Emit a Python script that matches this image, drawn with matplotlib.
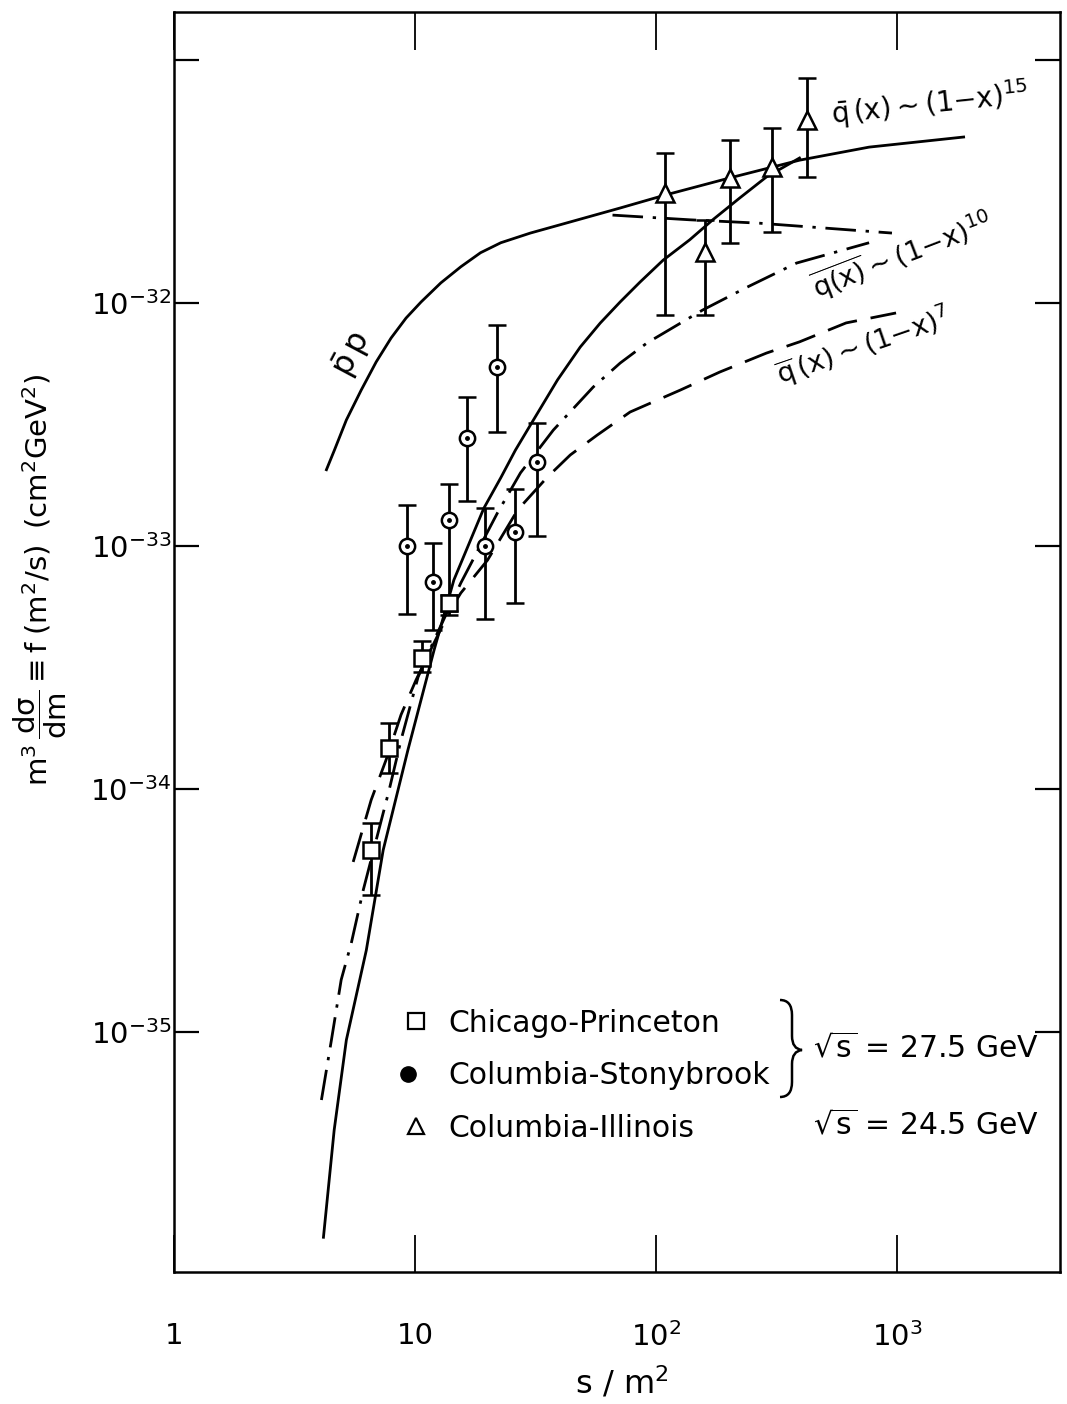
import matplotlib
matplotlib.use("Agg")
import matplotlib.pyplot as plt
from matplotlib.lines import Line2D
from matplotlib.path import Path
from matplotlib.patches import PathPatch
from matplotlib.legend_handler import HandlerTuple

plt.rcParams['font.family'] = ['DejaVu Sans']
plt.rcParams['mathtext.default'] = 'regular'

# ---- measurements: s/m^2, f, lower and upper error limits ----
cp_s = [6.58, 7.81, 10.7, 13.9]                       # Chicago-Princeton
cp_f = [5.6e-35, 1.48e-34, 3.46e-34, 5.82e-34]
cp_lo = [3.66e-35, 1.16e-34, 3.03e-34, 5.4e-34]
cp_hi = [7.24e-35, 1.87e-34, 4.06e-34, 6.3e-34]

cs_s = [9.27, 11.9, 13.8, 16.4, 19.5, 21.8, 26.1, 32.2]   # Columbia-Stonybrook
cs_f = [1.00e-33, 7.1e-34, 1.28e-33, 2.78e-33, 1.00e-33, 5.46e-33, 1.14e-33, 2.22e-33]
cs_lo = [5.25e-34, 4.51e-34, 5.2e-34, 1.53e-33, 5.0e-34, 2.94e-33, 5.82e-34, 1.10e-33]
cs_hi = [1.47e-33, 1.03e-33, 1.80e-33, 4.10e-33, 1.43e-33, 8.11e-33, 1.72e-33, 3.21e-33]

ci_s = [109, 159, 202, 302, 425]                        # Columbia-Illinois
ci_f = [2.84e-32, 1.62e-32, 3.27e-32, 3.63e-32, 5.66e-32]
ci_lo = [8.9e-33, 8.9e-33, 1.77e-32, 1.96e-32, 3.30e-32]
ci_hi = [4.14e-32, 2.2e-32, 4.69e-32, 5.25e-32, 8.43e-32]

# ---- model curves ----
pp_s = [4.29, 4.63, 5.19, 5.98, 6.90, 7.96, 9.18, 10.6, 12.8, 15.5, 18.7, 22.7, 30.1,
        40.1, 71.0, 109, 202, 394, 766, 1890]
pp_f = [2.06e-33, 2.48e-33, 3.30e-33, 4.38e-33, 5.72e-33, 7.18e-33, 8.67e-33, 1.01e-32,
        1.21e-32, 1.41e-32, 1.61e-32, 1.77e-32, 1.94e-32, 2.10e-32, 2.46e-32, 2.78e-32,
        3.27e-32, 3.87e-32, 4.38e-32, 4.82e-32]

q15_s = [4.17, 4.62, 5.19, 6.28, 7.38, 9.35, 12.0, 14.5, 19.3, 22.7, 26.1, 31.0, 39.0,
         48.5, 58.7, 71.0, 85.9, 107, 138, 172, 222, 287, 394]
q15_f = [1.43e-36, 3.95e-36, 9.27e-36, 2.17e-35, 5.61e-35, 1.45e-34, 3.73e-34, 7.25e-34,
         1.43e-33, 1.91e-33, 2.48e-33, 3.30e-33, 4.82e-33, 6.59e-33, 8.27e-33, 1.01e-32,
         1.22e-32, 1.50e-32, 1.82e-32, 2.20e-32, 2.70e-32, 3.30e-32, 3.95e-32]

q10_s = [4.09, 4.50, 4.94, 5.44, 6.10, 6.90, 7.81, 8.75, 10.3, 12.0, 15.5, 22.0, 27.4,
         37.5, 54.9, 71.0, 91.8, 156, 238, 383, 766]
q10_f = [5.25e-36, 9.27e-36, 1.64e-35, 2.32e-35, 3.84e-35, 6.16e-35, 9.9e-35, 1.59e-34,
         2.89e-34, 4.10e-34, 7.05e-34, 1.37e-33, 2.00e-33, 3.00e-33, 4.51e-33, 5.66e-33,
         6.85e-33, 9.35e-33, 1.16e-32, 1.46e-32, 1.77e-32]

q7_s = [5.54, 6.58, 7.59, 8.75, 10.1, 11.6, 14.0, 15.5, 20.0, 26.7, 35.4, 44.1, 57.0,
        78.1, 126, 184, 287, 394, 615, 991]
q7_f = [5.01e-35, 9.02e-35, 1.32e-34, 2.02e-34, 2.81e-34, 3.73e-34, 5.45e-34, 6.41e-34,
        8.75e-34, 1.41e-33, 1.92e-33, 2.37e-33, 2.86e-33, 3.56e-33, 4.38e-33, 5.20e-33,
        6.22e-33, 6.92e-33, 8.28e-33, 9.1e-33]

flat_s = [66, 138, 269, 953]
flat_f = [2.30e-32, 2.20e-32, 2.13e-32, 1.94e-32]

xticks = [1, 10, 100, 1000]
xticklabels = ['1', '10', r'$10^2$', r'$10^3$']
yticks = [1e-35, 1e-34, 1e-33, 1e-32, 1e-31]
yticklabels = [r'$10^{-35}$', r'$10^{-34}$', r'$10^{-33}$', r'$10^{-32}$', '']

W, H = 1067, 1404
fig = plt.figure(figsize=(W / 100, H / 100), dpi=100)
ax = fig.add_axes([174 / W, 1 - 1272 / H, 886 / W, 1260 / H])
ax.set_xscale('log')
ax.set_yscale('log')
ax.set_xlim(1, 10 ** (886 / 241))
ax.set_ylim(10 ** (-32 - 969 / 243), 10 ** (-32 + 291 / 243))

lw = 2.0
dashdot = (0, (11, 3.5, 1.2, 3.5))
ax.plot(pp_s, pp_f, color='black', lw=lw)
ax.plot(q15_s, q15_f, color='black', lw=lw)
ax.plot(q10_s, q10_f, color='black', lw=lw, linestyle=dashdot)
ax.plot(q7_s, q7_f, color='black', lw=lw, linestyle=(0, (11, 5)))
ax.plot(flat_s, flat_f, color='black', lw=lw, linestyle=dashdot)


def errs(f, lo, hi):
    return [[a - b for a, b in zip(f, lo)], [c - a for a, c in zip(f, hi)]]


ekw = dict(color='black', ecolor='black', elinewidth=2.0, capsize=6.5, capthick=2.0,
           markerfacecolor='white', markeredgecolor='black', markeredgewidth=1.8, linestyle='none')
ax.errorbar(cp_s, cp_f, yerr=errs(cp_f, cp_lo, cp_hi), fmt='s', markersize=12, zorder=3, **ekw)
ax.errorbar(cs_s, cs_f, yerr=errs(cs_f, cs_lo, cs_hi), fmt='o', markersize=11, zorder=3, **ekw)
ax.plot(cs_s, cs_f, 'o', color='black', markersize=2.5, zorder=4)
ax.errorbar(ci_s, ci_f, yerr=errs(ci_f, ci_lo, ci_hi), fmt='^', markersize=13, zorder=3, **ekw)

ax.set_xticks(xticks)
ax.set_xticklabels(xticklabels)
ax.set_yticks(yticks)
ax.set_yticklabels(yticklabels)
ax.minorticks_off()
ax.tick_params(axis='x', which='major', direction='in', length=27, width=1.3,
               top=True, bottom=True, labelsize=21, pad=36)
ax.tick_params(axis='y', which='major', direction='in', length=18, width=1.6,
               left=True, right=True, labelsize=21, pad=2)
for sp in ax.spines.values():
    sp.set_linewidth(1.8)

# curve labels
ax.text(0.201, 0.728, r'$\bar{p}\,p$', transform=ax.transAxes, rotation=62,
        fontsize=23, ha='center', va='center')
ax.text(0.853, 0.927, r'$\bar{q}\,(x){\sim}(1{-}x)^{15}$', transform=ax.transAxes, rotation=6,
        fontsize=20, ha='center', va='center')
ax.text(0.822, 0.807, r'$\overline{q(x)}{\sim}(1{-}x)^{10}$', transform=ax.transAxes, rotation=21,
        fontsize=19.5, ha='center', va='center')
ax.text(0.778, 0.735, r'$\overline{q}\,(x){\sim}(1{-}x)^{7}$', transform=ax.transAxes, rotation=19,
        fontsize=19.5, ha='center', va='center')

# legend
h_cp = Line2D([], [], marker='s', markersize=12, markerfacecolor='white',
              markeredgecolor='black', markeredgewidth=1.6, linestyle='none')
h_cs = (Line2D([], [], marker='o', markersize=11, color='black', linestyle='none'),
        Line2D([], [], marker='o', markersize=3, color='white', linestyle='none'))
h_ci = Line2D([], [], marker='^', markersize=12, markerfacecolor='white',
              markeredgecolor='black', markeredgewidth=1.6, linestyle='none')
ax.legend([h_cp, h_cs, h_ci], ['Chicago-Princeton', 'Columbia-Stonybrook', 'Columbia-Illinois'],
          handler_map={tuple: HandlerTuple(ndivide=None)},
          loc='upper left', bbox_to_anchor=(386 / W, 1 - 994 / H),
          bbox_transform=fig.transFigure, frameon=False, fontsize=21.5,
          handlelength=1.0, handletextpad=0.6, labelspacing=0.78, borderpad=0)

# brace grouping the first two experiments
def px(x, y):
    return (x / W, 1 - y / H)


verts = [px(780, 1000), px(792, 1000), px(792, 1015), px(792, 1036),
         px(792, 1049), px(802, 1050), px(792, 1051), px(792, 1064),
         px(792, 1082), px(792, 1097), px(780, 1097)]
codes = [Path.MOVETO, Path.CURVE3, Path.CURVE3, Path.LINETO,
         Path.CURVE3, Path.CURVE3, Path.CURVE3, Path.CURVE3,
         Path.LINETO, Path.CURVE3, Path.CURVE3]
fig.add_artist(PathPatch(Path(verts, codes), transform=fig.transFigure,
                         facecolor='none', edgecolor='black', lw=1.8))
fig.text(813 / W, 1 - 1048 / H, r'$\sqrt{s}$ = 27.5 GeV', fontsize=21.5, ha='left', va='center')
fig.text(813 / W, 1 - 1125 / H, r'$\sqrt{s}$ = 24.5 GeV', fontsize=21.5, ha='left', va='center')

# axis titles
fig.text(622 / W, 1 - 1383 / H, r'$s\ /\ m^2$', fontsize=23, ha='center', va='center')
fig.text(40 / W, 1 - 580 / H,
         r'$m^3\,\dfrac{d\sigma}{dm}\equiv f\;(m^2/s)\;\;(cm^2GeV^2)$',
         fontsize=21, rotation=90, ha='center', va='center')

fig.savefig('out.png', dpi=100)
